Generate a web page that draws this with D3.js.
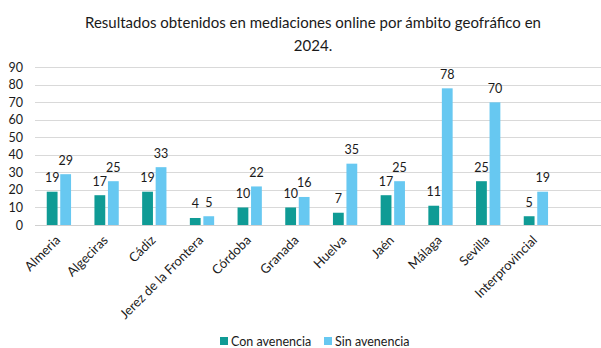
<!DOCTYPE html>
<html>
<head>
<meta charset="utf-8">
<script src="https://cdn.jsdelivr.net/npm/d3@7"></script>
<style>
  html, body { margin: 0; padding: 0; background: #fff; }
  svg { display: block; font-family: Lato, "Open Sans", sans-serif; }
</style>
</head>
<body>
<svg id="chart" width="601" height="348"></svg>
<script>
// Regions and result counts
const categories = ["Almeria", "Algeciras", "Cádiz", "Jerez de la Frontera", "Córdoba", "Granada", "Huelva", "Jaén", "Málaga", "Sevilla", "Interprovincial"];
const conAvenencia = [19, 17, 19, 4, 10, 10, 7, 17, 11, 25, 5];
const sinAvenencia = [29, 25, 33, 5, 22, 16, 35, 25, 78, 70, 19];
const seriesNames = ["Con avenencia", "Sin avenencia"];
const yTicks = [0, 10, 20, 30, 40, 50, 60, 70, 80, 90];
const titleLines = ["Resultados obtenidos en mediaciones online por ámbito geofráfico en", "2024."];

const colors = ["#0f9b95", "#67c8f1"];
const svg = d3.select("#chart");

const plotLeft = 35, plotRight = 601;
const x0 = d3.scaleBand().domain(categories).range([35.15, 559.85]);
const x1 = d3.scaleBand().domain(seriesNames).range([11.6, 35.9]).paddingInner(0.2);
const y = d3.scaleLinear().domain([0, 90]).range([225, 67.3]);

// Title
svg.append("g").selectAll("text").data(titleLines).join("text")
  .attr("x", 313).attr("y", (d, i) => 27.5 + i * 23)
  .attr("text-anchor", "middle")
  .attr("font-size", 15).attr("fill", "#1a1a1a")
  .text(d => d);

// Gridlines
svg.append("g").selectAll("line").data(yTicks).join("line")
  .attr("x1", plotLeft).attr("x2", plotRight)
  .attr("y1", d => Math.round(y(d)) + 0.5).attr("y2", d => Math.round(y(d)) + 0.5)
  .attr("stroke", "#d9d9d9").attr("stroke-width", 1);

// Y axis labels
const yAxis = d3.axisLeft(y).tickValues(yTicks).tickSize(0).tickPadding(0);
const yg = svg.append("g").attr("transform", "translate(23,0)").call(yAxis);
yg.select(".domain").remove();
yg.selectAll("text").attr("font-size", 12.5).attr("fill", "#1a1a1a").attr("font-family", "Lato, sans-serif");

// Bars
const rows = categories.map((c, i) => ({ cat: c, vals: [conAvenencia[i], sinAvenencia[i]] }));
const groups = svg.append("g").selectAll("g").data(rows).join("g")
  .attr("transform", d => `translate(${x0(d.cat)},0)`);

groups.selectAll("rect").data(d => d.vals.map((v, k) => ({ v, s: seriesNames[k], k }))).join("rect")
  .attr("x", d => x1(d.s)).attr("width", x1.bandwidth())
  .attr("y", d => y(d.v)).attr("height", d => y(0) - y(d.v))
  .attr("fill", d => colors[d.k]);

// Value labels
groups.selectAll("text").data(d => d.vals.map((v, k) => ({ v, s: seriesNames[k], k }))).join("text")
  .attr("x", d => x1(d.s) + x1.bandwidth() / 2)
  .attr("y", d => y(d.v) - 9.5)
  .attr("text-anchor", "middle")
  .attr("font-size", 12.5).attr("fill", "#1a1a1a")
  .text(d => d.v);

// Category axis line
svg.append("line")
  .attr("x1", plotLeft).attr("x2", plotRight)
  .attr("y1", Math.round(y(0)) + 0.5).attr("y2", Math.round(y(0)) + 0.5)
  .attr("stroke", "#d0d0d0");

// Category labels
svg.append("g").selectAll("text").data(categories).join("text")
  .attr("transform", d => `translate(${x0(d) + x0.bandwidth() / 2 + 2},241) rotate(-45)`)
  .attr("text-anchor", "end")
  .attr("font-size", 13).attr("fill", "#1a1a1a")
  .text(d => d);

// Legend
const legendX = [220, 324];
const lg = svg.append("g").selectAll("g").data(seriesNames).join("g")
  .attr("transform", (d, i) => `translate(${legendX[i]},337)`);
lg.append("rect").attr("width", 8).attr("height", 8).attr("fill", (d, i) => colors[i]);
lg.append("text").attr("x", 11).attr("y", 8.5)
  .attr("font-size", 12.5).attr("fill", "#1a1a1a")
  .text(d => d);
</script>
</body>
</html>
